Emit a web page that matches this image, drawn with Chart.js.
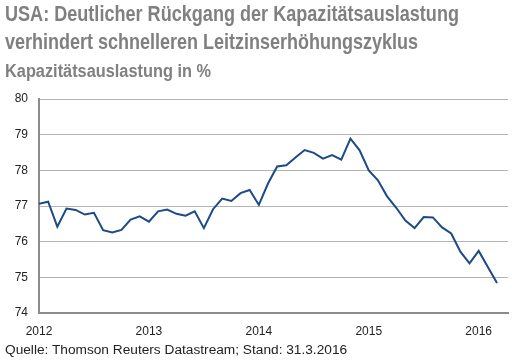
<!DOCTYPE html>
<html>
<head>
<meta charset="utf-8">
<script src="https://cdn.jsdelivr.net/npm/chart.js@4.4.1/dist/chart.umd.min.js"></script>
<style>
  html, body { margin: 0; padding: 0; background: #fff; }
  #wrap { position: relative; width: 512px; height: 361px; overflow: hidden; }
  #chart { position: absolute; left: 0; top: 0; }
  .txt { position: absolute; left: 5px; white-space: nowrap; transform-origin: 0 0; }
  .title { font-family: "Liberation Sans", Arial, sans-serif; font-weight: bold; color: #808080; }
  #t1 { top: 3px; font-size: 22px; line-height: 22px; }
  #t2 { top: 31px; font-size: 22px; line-height: 22px; }
  #t3 { top: 62px; font-size: 18px; line-height: 18px; }
  #src { top: 343px; font-family: "Liberation Sans", Arial, sans-serif; font-size: 13.7px; line-height: 14px; color: #222; }
</style>
</head>
<body>
<div id="wrap">
  <canvas id="chart" width="512" height="361"></canvas>
  <div class="txt title" id="t1" data-w="454">USA: Deutlicher Rückgang der Kapazitätsauslastung</div>
  <div class="txt title" id="t2" data-w="413">verhindert schnelleren Leitzinserhöhungszyklus</div>
  <div class="txt title" id="t3" data-w="206">Kapazitätsauslastung in %</div>
  <div class="txt" id="src">Quelle: Thomson Reuters Datastream; Stand: 31.3.2016</div>
</div>
<script>
// Kapazitätsauslastung USA, monatlich Jan 2012 - Mär 2016
const years = ["2012", "2013", "2014", "2015", "2016"];
const values2012 = [77.06, 77.12, 76.42, 76.93, 76.89, 76.76, 76.81, 76.32, 76.26, 76.33, 76.62, 76.71];
const values2013 = [76.56, 76.85, 76.90, 76.78, 76.73, 76.85, 76.38, 76.91, 77.21, 77.14, 77.36, 77.45];
const values2014 = [77.03, 77.63, 78.11, 78.14, 78.36, 78.57, 78.49, 78.33, 78.43, 78.30, 78.89, 78.56];
const values2015 = [78.00, 77.72, 77.27, 76.95, 76.59, 76.38, 76.69, 76.68, 76.40, 76.23, 75.72, 75.39];
const values2016 = [75.74, 75.29, 74.84];
const yTicks = [74, 75, 76, 77, 78, 79, 80];

const values = [...values2012, ...values2013, ...values2014, ...values2015, ...values2016];
// month index on the x axis, Jan 2012 = 0
const points = values.map((v, i) => ({ x: i, y: v }));

// the original uses a condensed face, squeeze the title lines to its widths
document.querySelectorAll(".title").forEach((el) => {
  const w = el.getBoundingClientRect().width;
  el.style.transform = `scaleX(${el.dataset.w / w})`;
});

const tickFont = { family: "Liberation Sans, Arial, sans-serif", size: 12 };

new Chart(document.getElementById("chart"), {
  type: "line",
  data: {
    datasets: [
      {
        data: points,
        borderColor: "#1c4a87",
        borderWidth: 2,
        pointRadius: 0,
        tension: 0,
      },
    ],
  },
  options: {
    responsive: false,
    animation: false,
    layout: { padding: { top: 99, right: 4, left: 0, bottom: 0 } },
    plugins: { legend: { display: false }, tooltip: { enabled: false } },
    scales: {
      x: {
        type: "linear",
        min: 0,
        max: 51.2,
        afterFit: (scale) => { scale.height = 48; },
        afterBuildTicks: (scale) => {
          scale.ticks = years.map((y, i) => ({ value: i * 12 }));
        },
        ticks: {
          padding: 11,
          color: "#222",
          font: tickFont,
          maxRotation: 0,
          autoSkip: false,
          callback: (v) => years[v / 12],
        },
        grid: { display: false, drawTicks: false },
        border: { display: true, color: "#8c8c8c", width: 2 },
      },
      y: {
        min: 74,
        max: 80,
        afterFit: (scale) => { scale.width = 39; },
        afterBuildTicks: (scale) => {
          scale.ticks = yTicks.map((v) => ({ value: v }));
        },
        ticks: { padding: 11, color: "#222", font: tickFont },
        grid: { color: "#b4b4b4", lineWidth: 1, drawTicks: false },
        border: { display: true, color: "#8c8c8c", width: 2 },
      },
    },
  },
});
</script>
</body>
</html>
